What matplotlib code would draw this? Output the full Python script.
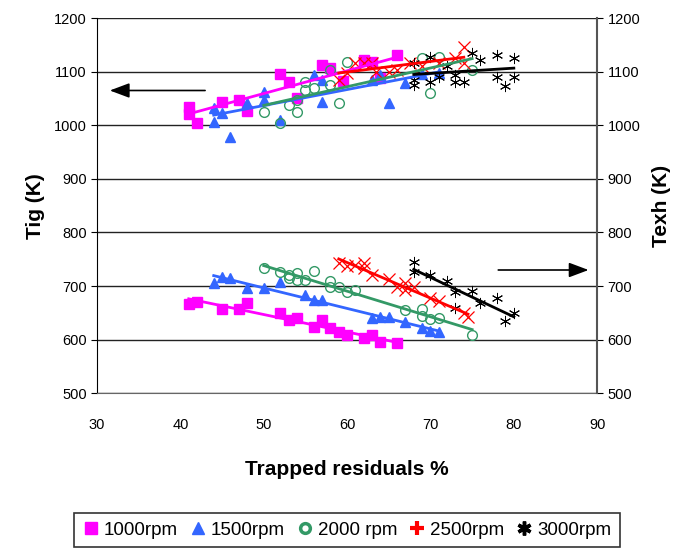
import matplotlib

matplotlib.use("Agg")

import matplotlib.pyplot as plt
import numpy as np
from matplotlib.lines import Line2D

plt.rcParams["font.family"] = ["Liberation Sans", "DejaVu Sans"]

# Upper group: Tig (left axis)
tig_1000_x = [41, 41, 42, 45, 47, 48, 52, 53, 54, 57, 58, 59.5, 62, 63, 64, 66]
tig_1000_y = [1035, 1022, 1005, 1044, 1048, 1027, 1096, 1080, 1051, 1113, 1107, 1082, 1122, 1119, 1089, 1132]
tig_1500_x = [44, 44, 45, 46, 48, 50, 50, 52, 56, 57, 57, 63, 64, 65, 67, 69, 71]
tig_1500_y = [1033, 1007, 1023, 978, 1042, 1063, 1048, 1010, 1094, 1085, 1044, 1085, 1094, 1042, 1079, 1095, 1098]
tig_2000_x = [50, 52, 53, 54, 54, 55, 55, 56, 58, 58, 59, 60, 69, 70, 71, 75]
tig_2000_y = [1025, 1004, 1038, 1025, 1047, 1066, 1081, 1070, 1104, 1076, 1042, 1119, 1126, 1060, 1128, 1104]
tig_2500_x = [59, 60, 61, 62, 63, 63.5, 65, 66, 67.5, 69, 71, 73, 74, 74]
tig_2500_y = [1085, 1098, 1116, 1116, 1116, 1100, 1100, 1104, 1116, 1110, 1116, 1126, 1147, 1116]
tig_3000_x = [68, 68, 68, 70, 70, 71, 72, 73, 73, 74, 75, 76, 78, 78, 79, 80, 80]
tig_3000_y = [1116, 1085, 1076, 1128, 1080, 1090, 1110, 1094, 1080, 1080, 1135, 1122, 1132, 1091, 1073, 1126, 1091]

# Lower group: Texh (right axis, same scale)
texh_1000_x = [41, 42, 45, 47, 48, 52, 53, 54, 56, 57, 58, 59, 60, 62, 63, 64, 66]
texh_1000_y = [667, 670, 657, 657, 668, 649, 636, 640, 623, 636, 621, 614, 608, 604, 608, 596, 593]
texh_1500_x = [44, 45, 46, 48, 50, 52, 55, 56, 57, 63, 64, 65, 67, 69, 70, 71]
texh_1500_y = [706, 717, 715, 696, 696, 707, 683, 674, 674, 640, 642, 642, 633, 622, 617, 614]
texh_2000_x = [50, 52, 53, 53, 54, 54, 55, 56, 58, 58, 59, 60, 61, 67, 69, 69, 70, 71, 75]
texh_2000_y = [733, 726, 720, 715, 724, 711, 711, 728, 709, 698, 698, 689, 693, 655, 658, 645, 639, 640, 608]
texh_2500_x = [59, 60, 61, 62, 62, 63, 65, 66, 67, 67, 68, 70, 71, 74, 74.5]
texh_2500_y = [743, 737, 740, 743, 733, 721, 713, 698, 705, 692, 698, 678, 672, 650, 642]
texh_3000_x = [68, 68, 70, 72, 73, 73, 75, 76, 78, 79, 80]
texh_3000_y = [745, 726, 721, 709, 689, 660, 690, 668, 678, 635, 649]

labels = ["1000rpm", "1500rpm", "2000 rpm", "2500rpm", "3000rpm"]
colors = ["#FF00FF", "#3366FF", "#339966", "#FF0000", "#000000"]
markers = ["s", "^", "o", "x", (6, 2, 0)]

upper = [(tig_1000_x, tig_1000_y), (tig_1500_x, tig_1500_y), (tig_2000_x, tig_2000_y),
         (tig_2500_x, tig_2500_y), (tig_3000_x, tig_3000_y)]
lower = [(texh_1000_x, texh_1000_y), (texh_1500_x, texh_1500_y), (texh_2000_x, texh_2000_y),
         (texh_2500_x, texh_2500_y), (texh_3000_x, texh_3000_y)]

fig = plt.figure(figsize=(6.88, 5.5), dpi=100)
ax = fig.add_axes([0.141, 0.285, 0.727, 0.682])

for group in (upper, lower):
    for (xs, ys), c, m in zip(group, colors, markers):
        xs = np.asarray(xs, float)
        ys = np.asarray(ys, float)
        if m == "o":
            ax.plot(xs, ys, ls="none", marker=m, ms=7, mfc="none", mec=c, mew=1.0, zorder=3)
        elif m == "x":
            ax.plot(xs, ys, ls="none", marker=m, ms=8, mec=c, mew=0.9, zorder=3)
        elif isinstance(m, tuple):
            ax.plot(xs, ys, ls="none", marker=m, ms=8, mec=c, mew=0.7, zorder=3)
        else:
            ax.plot(xs, ys, ls="none", marker=m, ms=7.5, mfc=c, mec=c, zorder=3)
        # linear trendline over the series' own x range
        k, b = np.polyfit(xs, ys, 1)
        xl = np.array([xs.min(), xs.max()])
        ax.plot(xl, k * xl + b, color=c, lw=2, zorder=4)

ax.set_xlim(30, 90)
ax.set_ylim(500, 1200)
ax.set_xticks(np.arange(30, 91, 10))
ax.set_yticks(np.arange(500, 1201, 100))
ax.yaxis.grid(True, color="#222222", lw=1)
ax.set_axisbelow(True)
ax.spines["top"].set_visible(False)
ax.spines["right"].set_visible(False)
ax.spines["bottom"].set_color("#666666")
ax.tick_params(axis="both", labelsize=10.5, length=4)
ax.tick_params(axis="x", length=0, pad=18)
ax.set_xlabel("Trapped residuals %", fontsize=15, fontweight="bold", labelpad=20)
ax.set_ylabel("Tig (K)", fontsize=15, fontweight="bold", labelpad=6)

ax2 = ax.twinx()
ax2.set_ylim(500, 1200)
ax2.set_yticks(np.arange(500, 1201, 100))
ax2.spines["top"].set_visible(False)
ax2.spines["left"].set_visible(False)
ax2.spines["bottom"].set_visible(False)
ax2.spines["right"].set_color("#555555")
ax2.spines["right"].set_linewidth(1.5)
ax2.tick_params(axis="y", labelsize=10.5, length=4)
ax2.set_ylabel("Texh (K)", fontsize=15, fontweight="bold", labelpad=8)

# direction arrows
ax.annotate("", xy=(31.2, 1065), xytext=(43.3, 1065),
            arrowprops=dict(arrowstyle="-|>,head_length=1.2,head_width=0.45", color="black", lw=1.2))
ax.annotate("", xy=(89.3, 730), xytext=(77.8, 730),
            arrowprops=dict(arrowstyle="-|>,head_length=1.2,head_width=0.45", color="black", lw=1.2))

handles = [
    Line2D([], [], ls="none", marker="s", ms=8, mfc=colors[0], mec=colors[0]),
    Line2D([], [], ls="none", marker="^", ms=8, mfc=colors[1], mec=colors[1]),
    Line2D([], [], ls="none", marker="o", ms=7, mfc="none", mec=colors[2], mew=2.5),
    Line2D([], [], ls="none", marker="+", ms=10, mec=colors[3], mew=3),
    Line2D([], [], ls="none", marker=(6, 2, 0), ms=10, mec=colors[4], mew=2.5),
]
leg = fig.legend(handles, labels, loc="center", bbox_to_anchor=(0.504, 0.036), ncol=5,
                 fontsize=13.5, frameon=True, fancybox=False, edgecolor="black",
                 handlelength=0.9, handletextpad=0.25, columnspacing=0.6, borderpad=0.45)
leg.get_frame().set_linewidth(1.2)

fig.savefig("out.png", dpi=100)
